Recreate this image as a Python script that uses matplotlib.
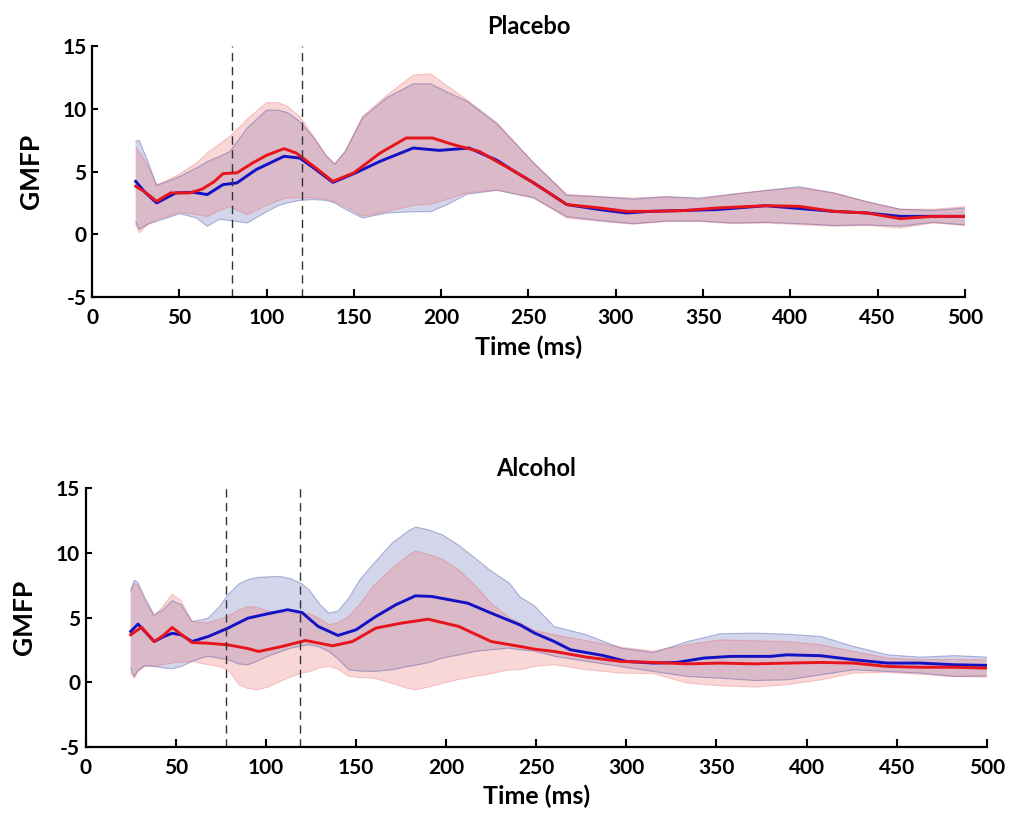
import matplotlib
matplotlib.use("Agg")
import matplotlib.pyplot as plt

# ---------------- Placebo (top) ----------------
pl_band_t = [25, 27, 32, 37, 43, 50, 60, 66, 73, 79, 89, 100, 107, 112, 119, 127, 134, 139, 145, 155,
             169, 184, 194, 204, 215, 232, 253, 272, 291, 310, 329, 348, 367, 386, 405, 425, 444, 463, 482, 500]
pl_red_upper = [7.0, 6.6, 5.5, 3.96, 4.3, 4.8, 5.7, 6.5, 7.2, 7.8, 9.2, 10.5, 10.5, 10.2, 9.4, 7.8, 6.3, 5.6, 6.6, 9.4,
                11.1, 12.7, 12.8, 11.8, 10.7, 8.9, 5.7, 3.2, 3.0, 2.9, 3.0, 2.8, 3.2, 3.5, 3.7, 3.3, 2.6, 2.0, 2.0, 2.2]
pl_red_lower = [0.8, 0.1, 0.8, 1.16, 1.4, 1.75, 1.56, 1.4, 1.9, 2.2, 1.56, 2.3, 2.7, 2.9, 2.9, 2.9, 2.8, 2.6, 2.2, 1.45,
                1.8, 2.3, 2.4, 2.8, 3.3, 3.55, 2.9, 1.3, 1.03, 0.8, 1.03, 1.03, 0.85, 0.9, 0.77, 0.64, 0.7, 0.5, 0.9, 0.7]
pl_blue_upper = [7.4, 7.5, 5.8, 3.9, 4.2, 4.6, 5.3, 5.8, 6.2, 6.6, 8.5, 9.9, 9.9, 9.7, 9.0, 7.7, 6.3, 5.6, 6.6, 9.3,
                 10.9, 12.0, 12.0, 11.3, 10.6, 8.8, 5.7, 3.1, 3.0, 2.8, 3.0, 2.9, 3.2, 3.5, 3.8, 3.3, 2.6, 2.0, 1.9, 2.1]
pl_blue_lower = [1.0, 0.4, 0.8, 1.03, 1.3, 1.64, 1.3, 0.64, 1.2, 1.1, 0.9, 1.8, 2.3, 2.5, 2.7, 2.77, 2.7, 2.5, 2.0, 1.3,
                 1.7, 1.8, 1.8, 2.4, 3.2, 3.5, 2.9, 1.4, 1.1, 0.85, 1.05, 1.05, 0.9, 0.95, 0.85, 0.7, 0.75, 0.65, 0.95, 0.75]

pl_red_t = [25, 30, 37, 45, 56, 63, 70, 75, 83, 92, 100, 110, 117, 127, 138, 150, 165, 180, 195, 207, 222, 232,
            241, 253, 272, 291, 306, 320, 339, 358, 386, 405, 425, 444, 463, 482, 500]
pl_red_mean = [3.83, 3.4, 2.63, 3.3, 3.3, 3.6, 4.2, 4.84, 4.9, 5.69, 6.3, 6.83, 6.48, 5.42, 4.22, 4.9, 6.48, 7.68,
               7.68, 7.15, 6.6, 5.8, 5.1, 4.1, 2.37, 2.1, 1.83, 1.83, 1.89, 2.1, 2.28, 2.23, 1.83, 1.7, 1.25, 1.43, 1.43]
pl_blue_t = [25, 30, 37, 48, 58, 66, 75, 83, 94, 110, 119, 127, 138, 151, 165, 184, 199, 216, 232, 241, 253, 272,
             291, 306, 320, 358, 386, 425, 444, 463, 482, 500]
pl_blue_mean = [4.22, 3.4, 2.5, 3.3, 3.35, 3.17, 3.96, 4.1, 5.16, 6.22, 6.08, 5.29, 4.14, 4.9, 5.82, 6.88, 6.69,
                6.88, 5.9, 5.1, 4.1, 2.37, 1.97, 1.7, 1.83, 1.97, 2.28, 1.83, 1.7, 1.43, 1.43, 1.43]
pl_vlines = [80, 120]

# ---------------- Alcohol (bottom) ----------------
al_band_t = [25, 27, 29, 33, 38, 43, 48, 53, 59, 64, 68, 74, 79, 85, 90, 95, 101, 108, 114, 120, 124, 130, 135,
             140, 146, 152, 160, 170, 179, 183, 190, 198, 207, 216, 225, 235, 241, 249, 260, 278, 297, 315, 334,
             352, 371, 389, 408, 426, 445, 463, 482, 500]
al_blue_upper = [7.15, 7.9, 7.7, 6.5, 5.2, 5.6, 6.3, 6.0, 4.7, 4.8, 4.95, 5.8, 6.76, 7.6, 7.92, 8.1, 8.15, 8.18,
                 8.0, 7.6, 7.15, 6.0, 5.34, 5.5, 6.5, 7.9, 9.2, 10.76, 11.7, 12.0, 11.8, 11.4, 10.6, 9.6, 8.6,
                 7.67, 6.6, 5.9, 4.3, 3.66, 2.63, 2.29, 3.14, 3.74, 3.79, 3.71, 3.53, 2.76, 2.11, 1.93, 2.05, 1.93]
al_blue_lower = [1.08, 0.43, 0.9, 1.3, 1.21, 1.1, 1.03, 1.2, 1.6, 1.85, 1.99, 1.85, 1.73, 1.4, 1.34, 1.6, 1.99,
                 2.35, 2.63, 2.8, 2.89, 2.7, 2.37, 1.8, 0.95, 0.85, 0.82, 0.95, 1.21, 1.3, 1.5, 1.86, 2.1, 2.37,
                 2.5, 2.63, 2.5, 2.4, 2.0, 1.6, 1.2, 0.82, 0.43, 0.3, 0.12, 0.17, 0.56, 0.95, 0.82, 0.7, 0.43, 0.47]
al_red_upper = [7.0, 7.66, 7.5, 6.3, 5.1, 5.9, 6.8, 6.3, 4.7, 4.6, 4.6, 4.85, 5.08, 5.6, 5.85, 5.8, 5.5, 5.4,
                5.34, 5.34, 5.3, 4.9, 4.44, 4.6, 5.08, 6.0, 7.5, 8.8, 9.8, 10.16, 9.9, 9.5, 8.69, 7.5, 6.11,
                5.0, 4.6, 4.0, 3.66, 3.2, 2.7, 2.4, 2.9, 3.27, 3.2, 3.14, 2.89, 2.37, 1.86, 1.73, 1.75, 1.73]
al_red_lower = [0.69, 0.3, 0.8, 1.2, 1.21, 1.35, 1.47, 1.55, 1.6, 1.45, 1.34, 1.2, 0.95, -0.2, -0.5, -0.6, -0.4,
                0.05, 0.4, 0.69, 0.8, 1.1, 1.21, 1.0, 0.43, 0.35, 0.3, -0.1, -0.5, -0.6, -0.4, -0.1, 0.2, 0.43,
                0.65, 0.95, 0.95, 1.21, 1.34, 0.95, 0.69, 0.65, -0.08, -0.29, -0.39, -0.21, 0.17, 0.69, 0.75,
                0.6, 0.43, 0.38]

al_blue_t = [25, 29, 33, 38, 43, 48, 53, 59, 68, 79, 90, 101, 112, 120, 129, 140, 150, 161, 172, 183, 192, 212,
             225, 241, 249, 260, 269, 287, 300, 315, 328, 343, 358, 380, 389, 408, 426, 445, 463, 482, 500]
al_blue_mean = [3.92, 4.49, 3.9, 3.14, 3.5, 3.78, 3.66, 3.14, 3.53, 4.18, 4.95, 5.29, 5.6, 5.39, 4.31, 3.61, 4.05,
                5.08, 5.98, 6.68, 6.63, 6.11, 5.34, 4.43, 3.8, 3.14, 2.5, 2.06, 1.6, 1.47, 1.52, 1.86, 1.99, 1.99,
                2.11, 2.04, 1.73, 1.47, 1.47, 1.34, 1.29]
al_red_t = [25, 31, 38, 43, 48, 53, 59, 68, 79, 90, 96, 109, 122, 137, 148, 161, 175, 190, 207, 225, 241, 249,
            260, 278, 297, 315, 334, 352, 371, 389, 408, 426, 445, 463, 482, 500]
al_red_mean = [3.66, 4.25, 3.14, 3.6, 4.23, 3.7, 3.06, 3.01, 2.88, 2.6, 2.37, 2.76, 3.22, 2.81, 3.14, 4.18, 4.56,
               4.87, 4.31, 3.14, 2.76, 2.55, 2.37, 1.93, 1.6, 1.52, 1.41, 1.47, 1.41, 1.47, 1.52, 1.47, 1.21,
               1.15, 1.15, 1.08]
al_vlines = [78, 119]

titles = ["Placebo", "Alcohol"]
xticks = [0, 50, 100, 150, 200, 250, 300, 350, 400, 450, 500]
yticks = [-5, 0, 5, 10, 15]

FONT = "Lato"
plt.rcParams["font.family"] = [FONT, "DejaVu Sans"]
plt.rcParams["font.weight"] = "bold"
plt.rcParams["axes.unicode_minus"] = False

fig = plt.figure(figsize=(10.16, 8.25), dpi=100)
ax1 = fig.add_axes([0.0906, 0.640, 0.859, 0.304])
ax2 = fig.add_axes([0.0843, 0.095, 0.887, 0.313])

BLUE = "#1212c4"
RED = "#e8141c"
BLUE_FILL = (16 / 255, 33 / 255, 144 / 255)
RED_FILL = (237 / 255, 112 / 255, 112 / 255)

panels = [
    (ax1, pl_band_t, pl_blue_upper, pl_blue_lower, pl_red_upper, pl_red_lower,
     pl_blue_t, pl_blue_mean, pl_red_t, pl_red_mean, pl_vlines, titles[0]),
    (ax2, al_band_t, al_blue_upper, al_blue_lower, al_red_upper, al_red_lower,
     al_blue_t, al_blue_mean, al_red_t, al_red_mean, al_vlines, titles[1]),
]

for (ax, bt, bu, bl, ru, rl, mbt, mb, mrt, mr, vl, title) in panels:
    ax.fill_between(bt, bl, bu, facecolor=BLUE_FILL, alpha=0.18, linewidth=0)
    ax.plot(bt, bu, color=BLUE_FILL, alpha=0.3, lw=0.8)
    ax.plot(bt, bl, color=BLUE_FILL, alpha=0.3, lw=0.8)
    ax.fill_between(bt, rl, ru, facecolor=RED_FILL, alpha=0.28, linewidth=0)
    ax.plot(bt, ru, color=(0.9, 0.2, 0.2), alpha=0.22, lw=0.8)
    ax.plot(bt, rl, color=(0.9, 0.2, 0.2), alpha=0.22, lw=0.8)
    ax.plot(mbt, mb, color=BLUE, lw=2.1)
    ax.plot(mrt, mr, color=RED, lw=2.1)
    for v in vl:
        ax.axvline(v, color="#333333", lw=1.0, ls=(0, (6, 4)))
    ax.set_xlim(0, 500)
    ax.set_ylim(-5, 15)
    ax.set_xticks(xticks)
    ax.set_yticks(yticks)
    for s in ["top", "right"]:
        ax.spines[s].set_visible(False)
    for s in ["left", "bottom"]:
        ax.spines[s].set_linewidth(1.6)
    ax.tick_params(axis="both", direction="in", width=1.5, labelsize=15)
    ax.tick_params(axis="x", length=6, pad=8)
    ax.tick_params(axis="y", length=4, pad=4)
    for lab in ax.get_xticklabels() + ax.get_yticklabels():
        lab.set_fontweight("bold")
    ax.set_xlabel("Time (ms)", fontsize=18, fontweight="bold", labelpad=5)
    ax.set_ylabel("GMFP", fontsize=19, fontweight="bold", labelpad=14)
    ax.set_title(title, fontsize=17, fontweight="bold", pad=9)

fig.savefig("out.png", dpi=100)
